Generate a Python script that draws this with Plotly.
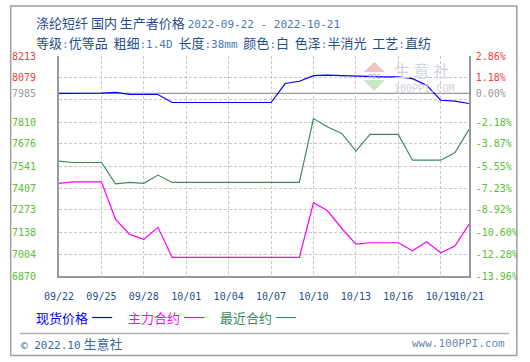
import plotly.graph_objects as go
import pandas as pd

# ---------------- data ----------------
dates = [d.strftime("%Y-%m-%d") for d in pd.date_range("2022-09-22", "2022-10-21")]

spot_price = [7985, 7985, 7985, 7986, 7991, 7979, 7978, 7978, 7929,
              7929, 7929, 7929, 7929, 7929, 7929, 7929,
              8045, 8059, 8093, 8096, 8093, 8090, 8085, 8085, 8085, 8075, 8035, 7943, 7938, 7923]
main_contract = [7435, 7445, 7445, 7445, 7216, 7124, 7094, 7167,
                 6984, 6984, 6984, 6984, 6984, 6984, 6984, 6984, 6984, 6984,
                 7317, 7268, 7160, 7065, 7073, 7073, 7073, 7024, 7079, 7012, 7053, 7185]
near_contract = [7571, 7563, 7563, 7563, 7433, 7441, 7436, 7486,
                 7441, 7441, 7441, 7441, 7441, 7441, 7441, 7441, 7441, 7441,
                 7831, 7780, 7740, 7632, 7734, 7734, 7734, 7577, 7577, 7577, 7622, 7766]

base_price = 7985
y_min, y_max = 6870, 8213
grid_vals = [8213, 8079, 7945, 7810, 7676, 7541, 7407, 7273, 7138, 7004, 6870]
left_tick_vals = [8213, 8079, 7985, 7810, 7676, 7541, 7407, 7273, 7138, 7004, 6870]
left_tick_text = ["8213", "8079", "7985", "7810", "7676", "7541", "7407", "7273", "7138", "7004", "6870"]
right_tick_text = ["2.86%", "1.18%", "0.00%", "-2.18%", "-3.87%", "-5.55%", "-7.23%",
                   "-8.92%", "-10.60%", "-12.28%", "-13.96%"]
x_tick_vals = ["2022-09-22", "2022-09-25", "2022-09-28", "2022-10-01", "2022-10-04",
               "2022-10-07", "2022-10-10", "2022-10-13", "2022-10-16", "2022-10-19", "2022-10-21"]
x_tick_text = ["09/22", "09/25", "09/28", "10/01", "10/04", "10/07", "10/10", "10/13",
               "10/16", "10/19", "10/21"]

series_names = ["现货价格", "主力合约", "最近合约"]
series_colors = ["#0000ff", "#ff00ff", "#3d8b5c"]

# ---------------- layout geometry ----------------
W, H = 530, 362
PL, PR, PT, PB = 53, 473, 56, 276   # plot area in pixels


def px(x):
    return (x - PL) / (PR - PL)


def py(y):
    return (PB - y) / (PB - PT)


def tick_color(i):
    if i < 2:
        return "#f03c3c"
    if i == 2:
        return "#999999"
    return "#5abe32"


left_text = [f'<span style="color:{tick_color(i)}">{t}</span>' for i, t in enumerate(left_tick_text)]
right_text = [f'<span style="color:{tick_color(i)}">{t}</span>' for i, t in enumerate(right_tick_text)]

fig = go.Figure()
for name, vals, col in zip(series_names, [spot_price, main_contract, near_contract], series_colors):
    fig.add_trace(go.Scatter(x=dates, y=vals, mode="lines", name=name,
                             line=dict(color=col, width=1.2), showlegend=False))

mono = "DejaVu Sans Mono"
cjk = "Noto Sans CJK SC"

fig.update_layout(
    width=W, height=H,
    margin=dict(l=PL, r=W - PR, t=PT, b=H - PB, pad=0),
    paper_bgcolor="white", plot_bgcolor="white",
    xaxis=dict(type="date", range=[dates[0], dates[-1]], tickvals=x_tick_vals, ticktext=x_tick_text,
               tickangle=0, showgrid=True, gridcolor="#c8c8c8", griddash="3px,2px", gridwidth=1,
               showline=True, linecolor="#999999", linewidth=1.5, zeroline=False, ticks="",
               ticklabelstandoff=10, tickfont=dict(family=mono, size=10, color="#1f4f8f")),
    yaxis=dict(range=[y_min, y_max], tickvals=grid_vals, showticklabels=False, showgrid=True,
               gridcolor="#c8c8c8", griddash="3px,2px", gridwidth=1, showline=True,
               linecolor="#999999", linewidth=1.5, zeroline=False, ticks=""),
    yaxis3=dict(range=[y_min, y_max], overlaying="y", side="left", tickvals=left_tick_vals,
                ticktext=left_text, showgrid=False, zeroline=False, showline=False, ticks="",
                ticklabelstandoff=22, tickfont=dict(family=mono, size=10)),
    yaxis2=dict(range=[y_min, y_max], overlaying="y", side="right", tickvals=left_tick_vals,
                ticktext=right_text, showgrid=False, zeroline=False, showline=True,
                linecolor="#999999", linewidth=1.5, ticks="", ticklabelstandoff=3,
                tickfont=dict(family=mono, size=10)),
)
# invisible traces to activate overlay axes
fig.add_trace(go.Scatter(x=[dates[0]], y=[base_price], yaxis="y3", mode="lines",
                         showlegend=False, hoverinfo="skip", line=dict(width=0)))
fig.add_trace(go.Scatter(x=[dates[0]], y=[base_price], yaxis="y2", mode="lines",
                         showlegend=False, hoverinfo="skip", line=dict(width=0)))

shapes = []
# base (0%) line
shapes.append(dict(type="line", xref="paper", yref="y", x0=0, x1=1, y0=base_price, y1=base_price,
                   line=dict(color="#999999", width=1.2), layer="below"))
# outer frame
shapes.append(dict(type="rect", xref="paper", yref="paper", x0=px(3.5), x1=px(522), y0=py(6), y1=py(355.5),
                   line=dict(color="#a0a0a0", width=1.5)))
# footer separator
shapes.append(dict(type="line", xref="paper", yref="paper", x0=px(13), x1=px(514), y0=py(333.5), y1=py(333.5),
                   line=dict(color="#b0b0b0", width=1.5)))
# watermark triangles
shapes.append(dict(type="path", xref="paper", yref="paper",
                   path=f"M {px(365)} {py(72)} L {px(387)} {py(72)} L {px(376)} {py(62)} Z",
                   fillcolor="#f2c4c4", line=dict(width=0), layer="below"))
shapes.append(dict(type="path", xref="paper", yref="paper",
                   path=f"M {px(365)} {py(80)} L {px(387)} {py(80)} L {px(376)} {py(91)} Z",
                   fillcolor="#c8e8c8", line=dict(width=0), layer="below"))

annotations = []
# legend
legend_pos = [(27.5, 87, 107.5), (121.5, 181, 202), (215.5, 275.5, 296)]
for name, col, (tx, l0, l1) in zip(series_names, series_colors, legend_pos):
    annotations.append(dict(text=name, xref="paper", yref="paper", x=px(tx), y=py(317.5),
                            xanchor="left", yanchor="middle", showarrow=False,
                            font=dict(family=cjk, size=13, color=col)))
    shapes.append(dict(type="line", xref="paper", yref="paper", x0=px(l0), x1=px(l1),
                       y0=py(317.5), y1=py(317.5), line=dict(color=col, width=1.2)))

# title lines
annotations.append(dict(
    text=('<span style="font-family:\'Noto Sans CJK SC\'">涤纶短纤 国内 生产者价格</span> '
          '<span style="font-family:\'DejaVu Sans Mono\';font-size:11px;color:#4a78b0">2022-09-22 - 2022-10-21</span>'),
    xref="paper", yref="paper", x=px(27), y=py(22), xanchor="left", yanchor="middle", showarrow=False,
    font=dict(family=cjk, size=13, color="#1f4f8f")))


def m(s):
    return f'<span style="font-family:\'DejaVu Sans Mono\';font-size:11px;color:#4a78b0">{s}</span>'


line2 = ("等级" + m(":") + "优等品  粗细" + m(":1.4D") + "  长度" + m(":38mm") + "  颜色" + m(":") +
         "白  色泽" + m(":") + "半消光  工艺" + m(":") + "直纺")
annotations.append(dict(text=line2, xref="paper", yref="paper", x=px(27), y=py(42.5),
                        xanchor="left", yanchor="middle", showarrow=False,
                        font=dict(family=cjk, size=13, color="#1f4f8f")))
# footer
annotations.append(dict(
    text=('<span style="font-family:\'DejaVu Sans Mono\';font-size:11px">© 2022.10</span> 生意社'),
    xref="paper", yref="paper", x=px(12.5), y=py(343.5), xanchor="left", yanchor="middle",
    showarrow=False, font=dict(family=cjk, size=13, color="#3a6a9a")))
annotations.append(dict(text="www.100PPI.com", xref="paper", yref="paper", x=px(512), y=py(343.5),
                        xanchor="right", yanchor="middle", showarrow=False,
                        font=dict(family=mono, size=11, color="#6a8ab0")))
# watermark text
annotations.append(dict(text="生 意 社", xref="paper", yref="paper", x=px(394), y=py(69.5),
                        xanchor="left", yanchor="middle", showarrow=False,
                        font=dict(family=cjk, size=16, color="#d0d4de")))
annotations.append(dict(text="100PPI.COM", xref="paper", yref="paper", x=px(394), y=py(88.5),
                        xanchor="left", yanchor="middle", showarrow=False,
                        font=dict(family=mono, size=10, color="#d0d4de")))
annotations.append(dict(text="PPI", xref="paper", yref="paper", x=px(376), y=py(76.5),
                        xanchor="center", yanchor="middle", showarrow=False,
                        font=dict(family=mono, size=7, color="#a8b0c0")))

fig.update_layout(shapes=shapes, annotations=annotations)
fig.write_html("out.html", config={"displayModeBar": False},
               post_script="document.body.style.margin='0';document.body.style.padding='0';"
                           "document.documentElement.style.overflow='hidden';")
